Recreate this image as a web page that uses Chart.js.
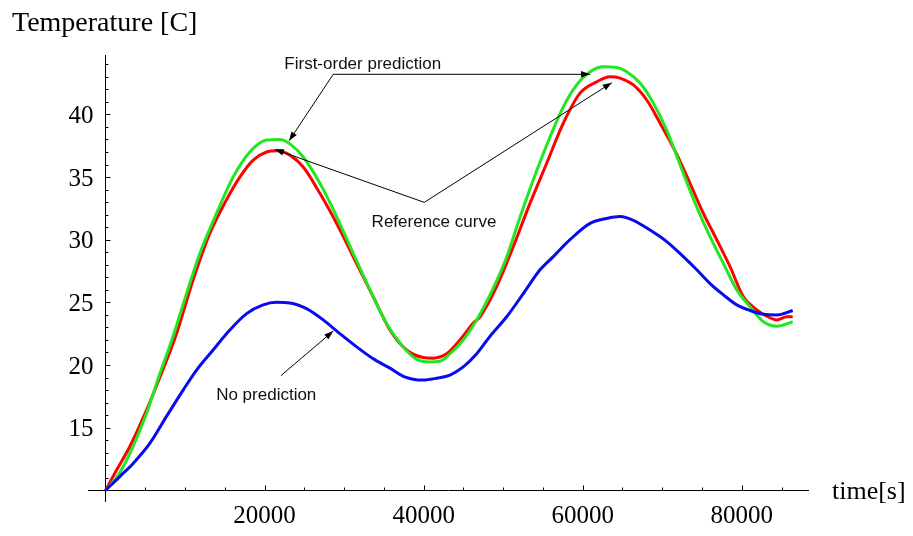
<!DOCTYPE html>
<html><head><meta charset="utf-8">
<script src="https://cdn.jsdelivr.net/npm/chart.js@4.4.1/dist/chart.umd.min.js"></script>
<style>html,body{margin:0;padding:0;background:#fff;}canvas{display:block}</style>
</head><body>
<canvas id="c" width="913" height="536"></canvas>
<script>
// ---- Data ----
const refTime  = [0,1380,3060,5160,6830,8930,11020,13120,15220,16890,18570,20250,21510,23180,24860,26960,29470,31570,33660,35760,37860,39950,41210,42890,44570,46240,47090,49180,51270,53370,55470,57560,59660,61760,63430,64690,66370,68050,69730,71600,73490,75170,76850,78520,80200,81890,83140,84400,85660,86400];
const refTemp  = [10,11.6,13.5,16.4,19.0,22.5,26.8,30.5,33.2,35.0,36.35,37.0,37.1,36.75,35.8,33.7,30.8,28.1,25.45,22.8,21.2,20.6,20.55,20.9,22.0,23.35,23.85,26.25,29.45,32.9,36.1,39.3,41.7,42.6,43.0,42.9,42.35,41.15,39.3,37.1,34.5,32.1,30.0,27.85,25.45,24.4,23.9,23.6,23.85,23.85];

const firstTime = [0,1800,3470,5160,6830,8500,10190,11860,13960,16050,18150,20250,21920,23180,24860,26960,29060,31150,33250,35350,37430,39120,40790,42050,43310,44980,46670,48350,50440,52110,54210,55890,57560,59240,60920,62590,64270,65530,67210,68880,70560,72650,74340,76010,77690,79370,81040,82720,84400,86400];
const firstTemp = [10,11.4,13.5,16.15,19.3,22.3,25.7,28.9,32.1,35.0,37.0,37.95,38.0,37.65,36.6,34.5,31.85,28.9,26.0,23.3,21.45,20.45,20.25,20.3,20.9,22.0,23.6,25.6,28.6,31.8,35.5,38.2,40.6,42.35,43.4,43.8,43.75,43.4,42.5,40.9,38.75,35.3,32.6,30.25,28.1,26.0,24.65,23.45,23.1,23.45];

const noTime = [0,1800,3470,5570,7670,9760,11450,13530,15220,17740,19820,21510,23180,25280,27370,29470,31570,33660,35760,37430,39950,41630,43310,44980,46670,48350,50440,52530,54630,56300,58400,60920,63020,64690,66370,68510,70560,72650,74340,76010,77690,79370,81040,82720,84400,86400];
const noTemp = [10,11.1,12.15,13.75,15.9,18.0,19.6,21.2,22.5,24.1,24.8,25.0,24.95,24.5,23.6,22.5,21.45,20.5,19.75,19.1,18.8,18.95,19.2,19.85,20.9,22.3,23.85,25.7,27.6,28.65,30.0,31.3,31.7,31.85,31.55,30.75,29.85,28.65,27.6,26.5,25.6,24.8,24.35,24.05,24.0,24.35];

const xTickLabels = [20000, 40000, 60000, 80000];
const yTickLabels = [15, 20, 25, 30, 35, 40];
const xAxisTitle = 'time[s]';
const yAxisTitle = 'Temperature [C]';

// annotations in data coordinates
const notes = [
  {text: 'First-order prediction', at: [32340, 43.98], from: [28630, 43.2], to: [[23090, 37.9], [60920, 43.2]]},
  {text: 'Reference curve',        at: [41300, 31.36], from: [40075, 32.98], to: [[21300, 37.21], [63650, 42.53]]},
  {text: 'No prediction',          at: [20210, 17.55], from: [22050, 19.15], to: [[28630, 22.71]]}
];

const xy = (t, v) => t.map((x, i) => ({x: x, y: v[i]}));

const SERIF = '"Liberation Serif", "Times New Roman", serif';
const SANS = '"Liberation Sans", Arial, sans-serif';

function arrow(ctx, x1, y1, x2, y2) {
  ctx.beginPath(); ctx.moveTo(x1, y1); ctx.lineTo(x2, y2); ctx.stroke();
  const a = Math.atan2(y2 - y1, x2 - x1), L = 9, W = 3.2;
  ctx.beginPath();
  ctx.moveTo(x2, y2);
  ctx.lineTo(x2 - L * Math.cos(a) + W * Math.sin(a), y2 - L * Math.sin(a) - W * Math.cos(a));
  ctx.lineTo(x2 - L * Math.cos(a) - W * Math.sin(a), y2 - L * Math.sin(a) + W * Math.cos(a));
  ctx.closePath(); ctx.fill();
}

const axesPlugin = {
  id: 'mmaAxes',
  beforeDatasetsDraw(chart) {
    const {ctx, chartArea: ca, scales: {x, y}} = chart;
    const ox = Math.round(x.getPixelForValue(0)) + 0.5;
    const oy = Math.round(y.getPixelForValue(10)) + 0.5;
    ctx.save();
    ctx.strokeStyle = '#000'; ctx.lineWidth = 1;
    ctx.beginPath();
    ctx.moveTo(ca.left, oy); ctx.lineTo(ca.right, oy);
    ctx.moveTo(ox, ca.top); ctx.lineTo(ox, ca.bottom);
    for (let t = 5000; t <= 85000; t += 5000) {
      const px = Math.round(x.getPixelForValue(t)) + 0.5;
      const len = (t % 20000 === 0) ? 5 : 3;
      ctx.moveTo(px, oy); ctx.lineTo(px, oy - len);
    }
    for (let v = 11; v <= 44; v++) {
      const py = Math.round(y.getPixelForValue(v)) + 0.5;
      const len = (v % 5 === 0) ? 5 : 3;
      ctx.moveTo(ox, py); ctx.lineTo(ox + len, py);
    }
    ctx.stroke();
    ctx.fillStyle = '#000';
    ctx.font = '25px ' + SERIF;
    ctx.textBaseline = 'alphabetic';
    ctx.textAlign = 'center';
    xTickLabels.forEach(t => ctx.fillText(String(t), x.getPixelForValue(t), oy + 32));
    ctx.textAlign = 'right';
    yTickLabels.forEach(v => ctx.fillText(String(v), ox - 12, y.getPixelForValue(v) + 8.5));
    ctx.textAlign = 'left';
    ctx.font = '26px ' + SERIF;
    ctx.fillText(xAxisTitle, 832, oy + 8.5);
    ctx.font = '28px ' + SERIF;
    ctx.fillText(yAxisTitle, 12, 31);
    ctx.restore();
  },
  afterDatasetsDraw(chart) {
    const {ctx, scales: {x, y}} = chart;
    ctx.save();
    ctx.strokeStyle = '#000'; ctx.fillStyle = '#000'; ctx.lineWidth = 1;
    notes.forEach(n => {
      const fx = x.getPixelForValue(n.from[0]), fy = y.getPixelForValue(n.from[1]);
      n.to.forEach(p => arrow(ctx, fx, fy, x.getPixelForValue(p[0]), y.getPixelForValue(p[1])));
    });
    ctx.font = '17px ' + SANS;
    ctx.textAlign = 'center'; ctx.textBaseline = 'middle';
    ctx.fillStyle = '#111';
    notes.forEach(n => ctx.fillText(n.text, x.getPixelForValue(n.at[0]), y.getPixelForValue(n.at[1])));
    ctx.restore();
  }
};

const common = {borderWidth: 3, pointRadius: 0, fill: false, cubicInterpolationMode: 'monotone'};

new Chart(document.getElementById('c').getContext('2d'), {
  type: 'line',
  data: {datasets: [
    Object.assign({label: 'No prediction', data: xy(noTime, noTemp), borderColor: '#0a0af0'}, common),
    Object.assign({label: 'First-order prediction', data: xy(firstTime, firstTemp), borderColor: '#22e622'}, common),
    Object.assign({label: 'Reference curve', data: xy(refTime, refTemp), borderColor: '#ff0000'}, common)
  ]},
  options: {
    responsive: false, animation: false, events: [],
    layout: {padding: {left: 88, right: 104, top: 55, bottom: 34}},
    plugins: {legend: {display: false}, tooltip: {enabled: false}},
    scales: {
      x: {type: 'linear', min: -2200, max: 88450, display: false},
      y: {type: 'linear', min: 9.07, max: 44.74, display: false}
    }
  },
  plugins: [axesPlugin]
});
</script>
</body></html>
